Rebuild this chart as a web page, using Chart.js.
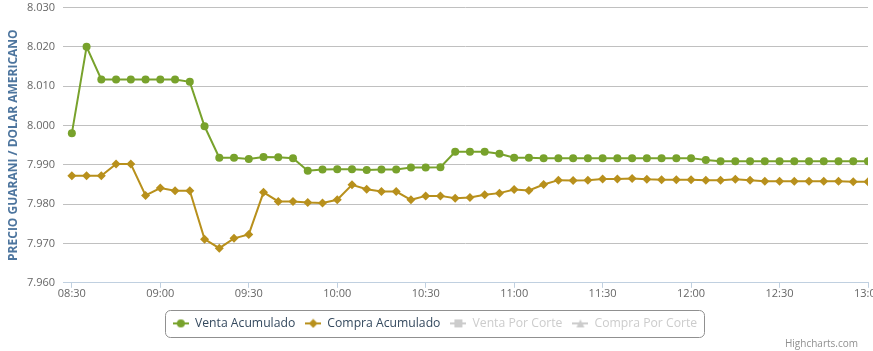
<!DOCTYPE html>
<html><head><meta charset="utf-8">
<script src="https://cdn.jsdelivr.net/npm/chart.js@4/dist/chart.umd.min.js"></script>
<style>html,body{margin:0;padding:0;background:#fff}canvas{display:block}</style>
</head><body>
<canvas id="c" width="873" height="351"></canvas>
<script>
const times = ['08:30','08:35','08:40','08:45','08:50','08:55','09:00','09:05','09:10','09:15','09:20','09:25','09:30','09:35','09:40','09:45','09:50','09:55','10:00','10:05','10:10','10:15','10:20','10:25','10:30','10:35','10:40','10:45','10:50','10:55','11:00','11:05','11:10','11:15','11:20','11:25','11:30','11:35','11:40','11:45','11:50','11:55','12:00','12:05','12:10','12:15','12:20','12:25','12:30','12:35','12:40','12:45','12:50','12:55','13:00'];
const ventaAcumulado = [7.9980,8.0200,8.0117,8.0117,8.0117,8.0117,8.0117,8.0117,8.0111,7.9998,7.9918,7.9918,7.9915,7.9920,7.9919,7.9917,7.9885,7.9888,7.9889,7.9889,7.9887,7.9888,7.9888,7.9893,7.9893,7.9894,7.9933,7.9933,7.9933,7.9928,7.9918,7.9918,7.9917,7.9917,7.9917,7.9917,7.9917,7.9917,7.9917,7.9917,7.9917,7.9917,7.9917,7.9912,7.9909,7.9909,7.9909,7.9909,7.9909,7.9909,7.9909,7.9909,7.9909,7.9909,7.9909];
const compraAcumulado = [7.9872,7.9872,7.9872,7.9902,7.9902,7.9822,7.9841,7.9834,7.9834,7.9711,7.9688,7.9713,7.9723,7.9830,7.9807,7.9807,7.9804,7.9803,7.9811,7.9849,7.9838,7.9832,7.9832,7.9811,7.9821,7.9821,7.9815,7.9817,7.9824,7.9828,7.9837,7.9835,7.9850,7.9861,7.9860,7.9861,7.9864,7.9864,7.9865,7.9863,7.9862,7.9862,7.9862,7.9861,7.9861,7.9863,7.9861,7.9858,7.9858,7.9858,7.9858,7.9858,7.9858,7.9857,7.9857];
const ventaPorCorte = [];
const compraPorCorte = [];
const seriesNames = ['Venta Acumulado','Compra Acumulado','Venta Por Corte','Compra Por Corte'];
const yTicks = [7.960,7.970,7.980,7.990,8.000,8.010,8.020,8.030];
const xTickLabels = ['08:30','09:00','09:30','10:00','10:30','11:00','11:30','12:00','12:30','13:00'];
const yTitle = 'PRECIO GUARANI / DOLAR AMERICANO';
const creditsText = 'Highcharts.com';

const GREEN = '#78a22c', GOLD = '#b8901c', GREY = '#cccccc';
const FONT = "'Open Sans', 'DejaVu Sans', sans-serif";

const toMin = t => { const p = t.split(':').map(Number); return p[0]*60 + p[1]; };
const fmt = v => { const h = Math.floor(v/60), m = Math.round(v - h*60); return String(h).padStart(2,'0') + ':' + String(m).padStart(2,'0'); };

function legendSymbol(color, shape) {
  const c = document.createElement('canvas'); c.width = 16; c.height = 10;
  const g = c.getContext('2d');
  g.strokeStyle = color; g.lineWidth = 2;
  g.beginPath(); g.moveTo(0,5); g.lineTo(16,5); g.stroke();
  g.fillStyle = color; g.beginPath();
  if (shape === 'circle') g.arc(8,5,4,0,Math.PI*2);
  else if (shape === 'diamond') { g.moveTo(8,0.5); g.lineTo(12.5,5); g.lineTo(8,9.5); g.lineTo(3.5,5); g.closePath(); }
  else if (shape === 'square') g.rect(4,1,8,8);
  else { g.moveTo(8,1); g.lineTo(12,9); g.lineTo(4,9); g.closePath(); }
  g.fill();
  return c;
}
const legendDefs = [
  {color: GREEN, shape: 'circle', text: '#34495e'},
  {color: GOLD, shape: 'diamond', text: '#34495e'},
  {color: GREY, shape: 'square', text: GREY},
  {color: GREY, shape: 'triangle', text: GREY}
];
const symbols = legendDefs.map(d => legendSymbol(d.color, d.shape));

const toPoints = arr => arr.map((v,i) => ({x: toMin(times[i]), y: v}));

const legendBorder = {
  id: 'legendBorder',
  afterDraw(chart) {
    const lg = chart.legend; if (!lg || !lg.legendHitBoxes || !lg.legendHitBoxes.length) return;
    const hb = lg.legendHitBoxes;
    const l = Math.min(...hb.map(h => h.left)) - 7.5;
    const r = Math.max(...hb.map(h => h.left + h.width)) + 7.5;
    const cy = hb[0].top + hb[0].height/2;
    const t = cy - 13.5, b = cy + 13.5;
    const ctx = chart.ctx; ctx.save();
    ctx.strokeStyle = '#909090'; ctx.lineWidth = 1;
    ctx.beginPath(); ctx.roundRect(Math.round(l)+0.5, Math.round(t)+0.5, Math.round(r-l), Math.round(b-t), 5); ctx.stroke();
    ctx.restore();
  }
};
const credits = {
  id: 'credits',
  afterDraw(chart) {
    const ctx = chart.ctx; ctx.save();
    ctx.font = "10px " + FONT; ctx.fillStyle = '#909090';
    ctx.textAlign = 'right'; ctx.textBaseline = 'middle';
    ctx.fillText(creditsText, 858, 344);
    ctx.restore();
  }
};

new Chart(document.getElementById('c'), {
  type: 'line',
  data: {
    datasets: [
      {label: seriesNames[0], data: toPoints(ventaAcumulado), borderColor: GREEN, backgroundColor: GREEN, borderWidth: 2,
       pointStyle: 'circle', pointRadius: 4, pointBorderWidth: 0, pointBackgroundColor: GREEN, tension: 0, clip: 0},
      {label: seriesNames[1], data: toPoints(compraAcumulado), borderColor: GOLD, backgroundColor: GOLD, borderWidth: 2,
       pointStyle: 'rectRot', pointRadius: 4.5, pointBorderWidth: 0, pointBackgroundColor: GOLD, tension: 0, clip: 0},
      {label: seriesNames[2], data: toPoints(ventaPorCorte), borderColor: GREY, backgroundColor: GREY, hidden: true, pointStyle: 'rect'},
      {label: seriesNames[3], data: toPoints(compraPorCorte), borderColor: GREY, backgroundColor: GREY, hidden: true, pointStyle: 'triangle'}
    ]
  },
  options: {
    responsive: false, animation: false, devicePixelRatio: 1,
    layout: {padding: {left: 2, right: 5, top: 7.5, bottom: 11.5}},
    plugins: {
      tooltip: {enabled: false},
      legend: {
        position: 'bottom', align: 'center',
        labels: {
          usePointStyle: true, pointStyleWidth: 16, padding: 10,
          font: {family: FONT, size: 12.2},
          generateLabels(chart) {
            return chart.data.datasets.map((ds, i) => ({
              text: ds.label, fillStyle: legendDefs[i].color, strokeStyle: legendDefs[i].color,
              fontColor: legendDefs[i].text, pointStyle: symbols[i], hidden: false, datasetIndex: i, lineWidth: 0
            }));
          }
        }
      }
    },
    scales: {
      x: {
        type: 'linear', min: toMin(times[0]) - 3, max: toMin(times[times.length-1]),
        afterBuildTicks(s) { s.ticks = xTickLabels.map(t => ({value: toMin(t)})); },
        afterFit(s) { s.height = 24.5; s.paddingLeft = 0; s.paddingRight = 0; },
        grid: {drawOnChartArea: false, drawTicks: true, tickLength: 5, color: '#C0D0E0'},
        border: {display: true, color: '#C0D0E0', width: 1},
        ticks: {autoSkip: false, maxRotation: 0, padding: -1, color: '#666666', font: {family: FONT, size: 11},
                callback: v => fmt(v)}
      },
      y: {
        type: 'linear', min: yTicks[0], max: yTicks[yTicks.length-1],
        afterBuildTicks(s) { s.ticks = yTicks.map(v => ({value: v})); },
        afterFit(s) { s.width = 61; s.paddingTop = 0; s.paddingBottom = 0; },
        grid: {drawTicks: false, color: '#C0C0C0', lineWidth: 1},
        border: {display: false},
        ticks: {padding: 8, color: '#666666', font: {family: FONT, size: 11}, callback: v => v.toFixed(3)},
        title: {display: true, text: yTitle, color: '#4d759e', font: {family: FONT, size: 12, weight: 'bold'}, padding: {top: 4, bottom: 0}}
      }
    }
  },
  plugins: [legendBorder, credits]
});
</script>
</body></html>
